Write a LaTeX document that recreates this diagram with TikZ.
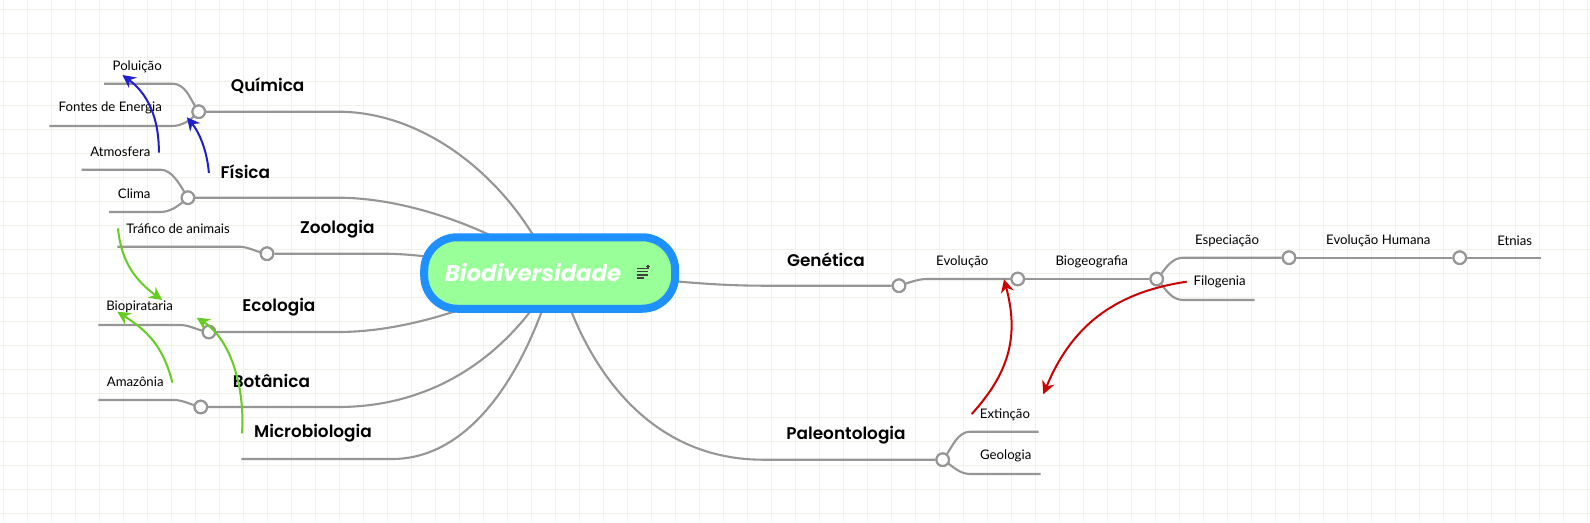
\documentclass[tikz,border=0pt]{standalone}
\usepackage{fontspec}
\setmainfont{Lato}
\newfontfamily\headfont{Poppins SemiBold}
\newfontfamily\rootfont{Poppins}[BoldItalicFont=* Bold Italic]
\usetikzlibrary{arrows.meta}
\definecolor{gridc}{HTML}{EEF3E4}
\definecolor{branch}{HTML}{969696}
\definecolor{rootfill}{HTML}{99FF99}
\definecolor{rootline}{HTML}{1E90FF}
\definecolor{relblue}{HTML}{1F1FCC}
\definecolor{relgreen}{HTML}{66CC22}
\definecolor{relred}{HTML}{CC0000}
\tikzset{
 lbl/.style={font=\fontsize{13.2}{15}\selectfont,text=black,inner sep=0pt},
 head/.style={font=\headfont\fontsize{16.9}{20}\selectfont,text=black,inner sep=0pt},
 br/.style={draw=branch,line width=2.1pt},
 hub/.style={circle,draw=branch,fill=white,line width=2.1pt,minimum size=12.5pt,inner sep=0pt},
 rel/.style={line width=2pt,-{Stealth[length=13pt,width=13pt]}},
 rootbox/.style={draw=rootline,fill=rootfill,line width=8pt,rounded corners=33pt,minimum width=251pt,minimum height=71.5pt,inner sep=0pt}
}
\begin{document}
\begin{tikzpicture}[x=1pt,y=-1pt]
\useasboundingbox (0,0) rectangle (1590,522);
\fill[white] (0,0) rectangle (1590,522);
\foreach \k in {0,...,66}{\draw[gridc,line width=1pt] ({3.6+24*\k},0) -- ({3.6+24*\k},522);}
\foreach \k in {0,...,21}{\draw[gridc,line width=1pt] (0,{9+24*\k}) -- (1590,{9+24*\k});}
\coordinate (rc) at (549.7,273);
% hubs
\node[hub] (hq) at (198.7,111.7) {};
\node[hub] (hf) at (187.9,197.7) {};
\node[hub] (hz) at (267,253.7) {};
\node[hub] (he) at (208.9,332) {};
\node[hub] (hb) at (200.8,407) {};
\node[hub] (hg) at (899,285.7) {};
\node[hub] (hev) at (1017.7,279) {};
\node[hub] (hbg) at (1156.7,279) {};
\node[hub] (hes) at (1289,257.7) {};
\node[hub] (heh) at (1459.7,257.7) {};
\node[hub] (hp) at (942.7,459.7) {};
% free ends
\coordinate (e1) at (104.1,83.7);
\coordinate (e2) at (49.3,126);
\coordinate (e3) at (81.5,169.7);
\coordinate (e4) at (109.2,212);
\coordinate (e5) at (117.3,246.7);
\coordinate (e6) at (98.4,325);
\coordinate (e7) at (98.4,400);
\coordinate (e8) at (241.3,459);
\coordinate (e9) at (1254.7,300);
\coordinate (e10) at (1540.7,257.7);
\coordinate (e11) at (1038.7,431.7);
\coordinate (e12) at (1040.7,474);
% root attachment points, hidden under the root
\coordinate (r1) at (536,240);
\coordinate (r2) at (500,240);
\coordinate (r3) at (430,257);
\coordinate (r4) at (465,308);
\coordinate (r5) at (533,308);
\coordinate (r6) at (543,308);
\coordinate (r7) at (570,308);
\coordinate (r8) at (672,281);
\draw[br] (hq) -- (338,111.7) .. controls (420,111.7) and (495,170) .. (r1);
\draw[br] (hf) -- (338,197.7) .. controls (390,197.7) and (450,215) .. (r2);
\draw[br] (hz) -- (382,253.7) .. controls (398,253.7) and (415,255) .. (r3);
\draw[br] (he) -- (338,332) .. controls (385,332) and (430,320) .. (r4);
\draw[br] (hb) -- (338,407) .. controls (425,407) and (490,365) .. (r5);
\draw[br] (e8) -- (392,459) .. controls (465,459) and (515,385) .. (r6);
\draw[br] (r8) .. controls (700,283.5) and (730,285.7) .. (763,285.7) -- (hg);
\draw[br] (r7) .. controls (600,385) and (660,459.7) .. (763,459.7) -- (hp);
\draw[br] (hq) .. controls (190,98) and (185,83.7) .. (172.4,83.7) -- (e1);
\draw[br] (hq) .. controls (190,120) and (182,126) .. (172.4,126) -- (e2);
\draw[br] (hf) .. controls (180,185) and (172,169.7) .. (160.5,169.7) -- (e3);
\draw[br] (hf) .. controls (178,206) and (170,212) .. (160.5,212) -- (e4);
\draw[br] (hz) .. controls (255,251) and (247,246.7) .. (240,246.7) -- (e5);
\draw[br] (he) .. controls (197,329.5) and (188,325) .. (180.8,325) -- (e6);
\draw[br] (hb) .. controls (190,404) and (182,400) .. (174,400) -- (e7);
\draw[br] (hg) .. controls (908,283) and (918,279) .. (926.7,279) -- (hev);
\draw[br] (hev) -- (hbg);
\draw[br] (hbg) .. controls (1166,268) and (1172,257.7) .. (1183.3,257.7) -- (hes);
\draw[br] (hbg) .. controls (1166,290) and (1172,300) .. (1183.3,300) -- (e9);
\draw[br] (hes) -- (heh);
\draw[br] (heh) -- (e10);
\draw[br] (hp) .. controls (952,447) and (958,431.7) .. (970,431.7) -- (e11);
\draw[br] (hp) .. controls (952,466) and (960,474) .. (970,474) -- (e12);
\node[hub] at (hq) {}; \node[hub] at (hf) {}; \node[hub] at (hz) {}; \node[hub] at (he) {}; \node[hub] at (hb) {};
\node[hub] at (hg) {}; \node[hub] at (hev) {}; \node[hub] at (hbg) {}; \node[hub] at (hes) {}; \node[hub] at (heh) {}; \node[hub] at (hp) {};
% root
\node[rootbox] (root) at (rc) {};
\node[inner sep=0pt,text=white,font=\rootfont\bfseries\itshape\fontsize{22.8}{26}\selectfont] (rt) at (533,272) {Biodiversidade};
\draw[black!75,line width=1.1pt] (636.5,268.5) -- (647,268.5) (636.5,271.8) -- (648,271.8) (636.5,275) -- (648,275) (636.5,278) -- (644,278) (646,266.5) -- (650,266.5) (648,264.5) -- (648,268.5);
% heads
\node[head] (tq) at (267.7,86) {Química};
\node[head] (tf) at (245.4,171.7) {Física};
\node[head] (tz) at (337.3,229.5) {Zoologia};
\node[head] (te) at (278.9,306.7) {Ecologia};
\node[head] (tb) at (271.4,380.7) {Botânica};
\node[head] (tm) at (313,433.5) {Microbiologia};
\node[head] (tg) at (826,259.7) {Genética};
\node[head] (tp) at (846,435) {Paleontologia};
% labels
\node[lbl] (l1) at (137.2,66.7) {Poluição};
\node[lbl] (l2) at (110.2,108.2) {Fontes de Energia};
\node[lbl] (l3) at (120.3,152) {Atmosfera};
\node[lbl] (l4) at (134.2,193.8) {Clima};
\node[lbl] (l5) at (178.1,228.5) {Tráfico de animais};
\node[lbl] (l6) at (139.6,307.2) {Biopirataria};
\node[lbl] (l7) at (135.2,381.7) {Amazônia};
\node[lbl] (l8) at (962.3,261.5) {Evolução};
\node[lbl] (l9) at (1091.7,261.5) {Biogeografia};
\node[lbl] (l10) at (1227,240.5) {Especiação};
\node[lbl] (l11) at (1219.7,282.2) {Filogenia};
\node[lbl] (l12) at (1378.3,240.5) {Evolução Humana};
\node[lbl] (l13) at (1514.7,240.5) {Etnias};
\node[lbl] (l14) at (1005,414.5) {Extinção};
\node[lbl] (l15) at (1005.7,456) {Geologia};
% relations
\coordinate (a1) at (158.9,152.7); \coordinate (a2) at (122.4,75);
\coordinate (b1) at (208.9,173); \coordinate (b2) at (186.9,117.3);
\coordinate (c1) at (118,228.3); \coordinate (c2) at (162.2,300);
\coordinate (d1) at (172.4,382.7); \coordinate (d2) at (117.3,311.7);
\coordinate (f1) at (242,433.3); \coordinate (f2) at (196.7,317.7);
\coordinate (g1) at (971.7,414); \coordinate (g2) at (1004,279.3);
\coordinate (h1) at (1186.7,281.7); \coordinate (h2) at (1043.3,394.3);
\draw[rel,relblue] (a1) .. controls (159,125) and (152,97) .. (a2);
\draw[rel,relblue] (b1) .. controls (207,150) and (199,132) .. (b2);
\draw[rel,relgreen] (c1) .. controls (121,262) and (136,281) .. (c2);
\draw[rel,relgreen] (d1) .. controls (163,345) and (146,330) .. (d2);
\draw[rel,relgreen] (f1) .. controls (245,390) and (232,340) .. (f2);
\draw[rel,relred] (g1) .. controls (1010,372) and (1019,335) .. (g2);
\draw[rel,relred] (h1) .. controls (1110,293) and (1070,330) .. (h2);
\end{tikzpicture}
\end{document}
